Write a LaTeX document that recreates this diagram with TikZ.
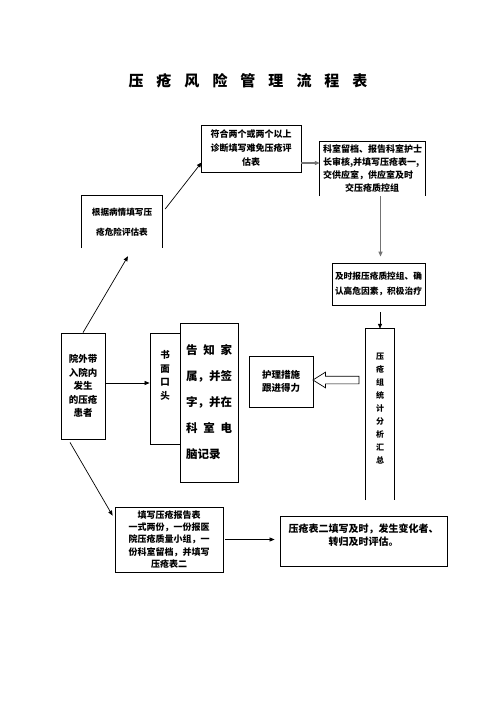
\documentclass[tikz,border=0pt]{standalone}
\usepackage{fontspec}
\setmainfont{Noto Sans CJK SC}
\usetikzlibrary{arrows.meta,shapes.arrows,calc}
\newcommand\fsz[2]{\bfseries\fontsize{#1}{#2}\selectfont}
\begin{document}
\begin{tikzpicture}[x=1pt,y=-1pt,
  box/.style={draw, line width=0.8pt, inner sep=0pt, align=center},
  openbox/.style={inner sep=0pt, align=center},
  arr/.style={-{Triangle[length=5pt,width=4pt]}, line width=0.7pt},
  garr/.style={arr, draw=black!55, line width=1.1pt}]
\fill[white] (0,0) rectangle (496,702);
\useasboundingbox (0,0) rectangle (496,702);

\node[font=\fsz{15}{15}] (T) at (248,81) {压\hspace{13pt}疮\hspace{13pt}风\hspace{13pt}险\hspace{13pt}管\hspace{13pt}理\hspace{13pt}流\hspace{13pt}程\hspace{13pt}表};

\node[box, minimum width=100pt, minimum height=47pt, font=\fsz{9}{14}] (A) at (251,148.5) {符合两个或两个以上\\诊断填写难免压疮评\\估表};

\node[openbox, minimum width=105pt, minimum height=54pt, align=left, font=\fsz{9}{13}] (B) at (372.5,169) {科室留档、报告科室护士\\长审核,并填写压疮表一,\\交供应室，供应室及时\\\hspace*{22pt}交压疮质控组};
\draw[line width=0.8pt] (B.south west) -- (B.north west) -- (B.north east) -- (B.south east);

\node[box, minimum width=93pt, minimum height=42pt, font=\fsz{8.7}{15}] (C) at (378.5,284) {及时报压疮质控组、确\\认高危因素，积极治疗};

\node[openbox, minimum width=28pt, minimum height=171pt, font=\fsz{8}{13}] (D) at (380,414.5) {压\\疮\\组\\统\\计\\分\\析\\汇\\总\\\mbox{}};
\draw[line width=0.8pt] (D.south west) -- (D.north west) -- (D.north east) -- (D.south east);

\node[box, minimum width=64pt, minimum height=51pt, font=\fsz{9.5}{12.5}] (E) at (281,381.5) {护理措施\\跟进得力};

\node[box, minimum width=44pt, minimum height=106pt, font=\fsz{9.5}{13.5}] (F) at (83,386) {院外带\\入院内\\发生\\的压疮\\患者};

\node[box, minimum width=30pt, minimum height=111pt, font=\fsz{9.5}{13.5}] (G) at (165,388.5) {书\\面\\口\\头\\\mbox{}\\\mbox{}};

\node[box, minimum width=58pt, minimum height=159pt, align=left, font=\fsz{11.5}{26}] (H) at (209,402.5) {\makebox[46pt][s]{告\hfill 知\hfill 家}\\属，并签\\字，并在\\\makebox[46pt][s]{科\hfill 室\hfill 电}\\脑记录};

\node[openbox, minimum width=80pt, minimum height=52pt, font=\fsz{8.6}{20}] (I) at (122,222) {根据病情填写压\\疮危险评估表};
\draw[line width=0.8pt] (I.south west) -- (I.north west) -- (I.north east) -- (I.south east);

\node[box, minimum width=108pt, minimum height=65pt, font=\fsz{9}{12.3}] (J) at (169,539.5) {填写压疮报告表\\一式两份，一份报医\\院压疮质量小组，一\\份科室留档，并填写\\压疮表二};

\node[box, minimum width=167pt, minimum height=50pt, font=\fsz{10}{13}] (K) at (363.5,541) {压疮表二填写及时，发生变化者、\\转归及时评估。\\\mbox{}};

\node[draw, line width=0.7pt, fill=white, single arrow, shape border rotate=180, minimum height=46pt, inner xsep=0pt, inner ysep=3.5pt, single arrow head extend=4pt, single arrow tip angle=64] (HA) at (339,380) {};

\draw[garr] ([yshift=-14.5pt]A.east) -- ([yshift=-14.5pt]A.east -| B.west);
\draw[garr, shorten >=6pt] ([xshift=8pt]B.south) -- ([xshift=8pt]B.south |- C.north);
\draw[arr, shorten <=7pt] (C.south -| D.north) -- (D.north);
\draw[arr] ([yshift=3pt]F.east) -- ([yshift=3pt]F.east -| G.west);
\draw[arr] (F.north) -- ([xshift=6pt,yshift=-8pt]I.south);
\draw[arr] ([xshift=3pt,yshift=13pt]I.east) -- ([xshift=1pt,yshift=10pt]A.south west);
\draw[arr] ([xshift=-13pt,yshift=-3pt]F.south) -- ([xshift=-2pt,yshift=-9pt]J.north west);
\draw[arr, shorten <=2pt, shorten >=5pt] (J.east) -- (J.east -| K.west);
\end{tikzpicture}
\end{document}
